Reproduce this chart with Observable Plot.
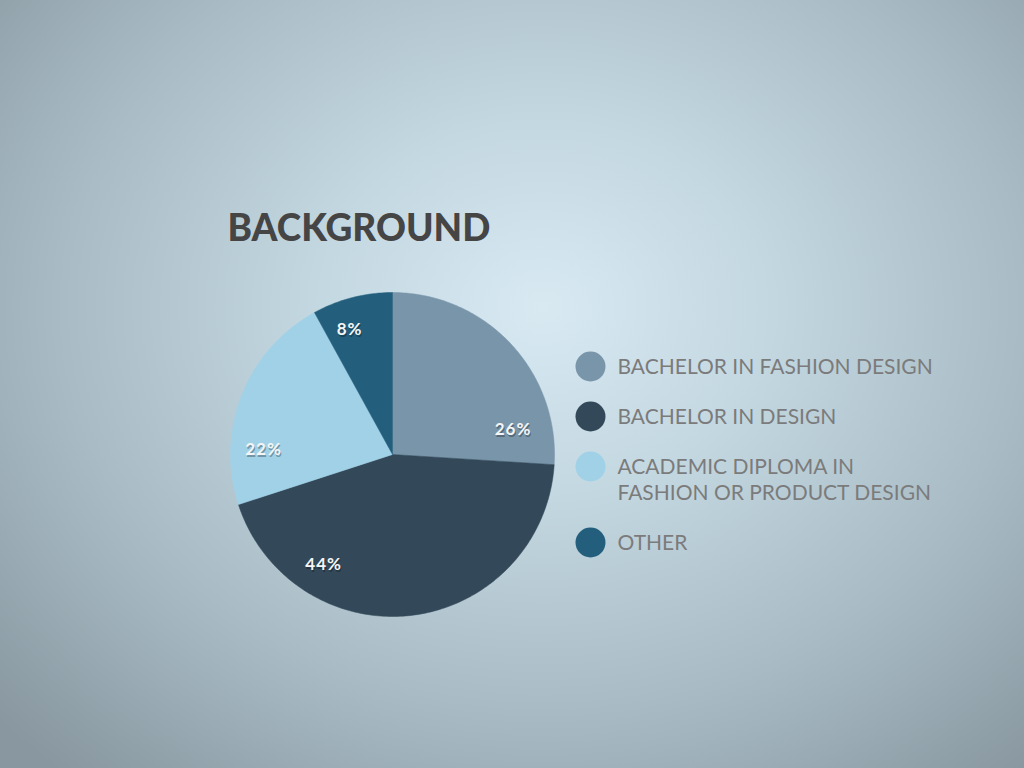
<!DOCTYPE html>
<html>
<head>
<meta charset="utf-8">
<script src="https://cdn.jsdelivr.net/npm/d3@7"></script>
<script src="https://cdn.jsdelivr.net/npm/@observablehq/plot@0.6"></script>
<style>
  html, body { margin: 0; padding: 0; width: 1024px; height: 768px; overflow: hidden; }
  body {
    background: radial-gradient(ellipse 72% 80% at 53% 40%, #d8e9f2 0%, #c4d8e2 30%, #a9bcc6 65%, #8897a0 100%);
    font-family: Lato, "Open Sans", sans-serif;
  }
  #chart svg { display: block; background: transparent; }
  #chart g[font-size="17"] { letter-spacing: 1px; }
</style>
</head>
<body>
<div id="chart"></div>
<script>
// ---- data ----
const title = "BACKGROUND";
const categories = [
  "BACHELOR IN FASHION DESIGN",
  "BACHELOR IN DESIGN",
  "ACADEMIC DIPLOMA IN\nFASHION OR PRODUCT DESIGN",
  "OTHER"
];
const values = [26, 44, 22, 8];
const colors = ["#7995aa", "#334959", "#a0d1e7", "#235f7d"];

// ---- layout (not data) ----
const W = 1024, H = 768;
const cx = 392, cy = 454, R = 162;
const labelAngle = [78.5, 212, 272, 341];   // degrees clockwise from 12 o'clock
const labelRadius = [123, 130, 129, 132];
const legendX = 590, legendY0 = 366, legendStep = 50, legendExtra = 26;

// ---- derived geometry ----
const total = d3.sum(values);
let acc = 0;
const slices = values.map((v, i) => {
  const a0 = acc / total * 2 * Math.PI;
  acc += v;
  const a1 = acc / total * 2 * Math.PI;
  return {category: categories[i], value: v, a0, a1, i};
});
const piePts = [];
for (const s of slices) {
  const n = Math.max(8, Math.ceil((s.a1 - s.a0) / (Math.PI / 180)));
  piePts.push({category: s.category, x: cx, y: cy});
  for (let k = 0; k <= n; k++) {
    const a = s.a0 + (s.a1 - s.a0) * k / n;
    piePts.push({category: s.category, x: cx + R * Math.sin(a), y: cy - R * Math.cos(a)});
  }
  piePts.push({category: s.category, x: cx, y: cy});
}
const labels = slices.map((s, i) => {
  const a = labelAngle[i] * Math.PI / 180;
  return {text: s.value + "%", x: cx + labelRadius[i] * Math.sin(a), y: cy - labelRadius[i] * Math.cos(a)};
});
let ly = legendY0;
const legend = categories.map((c, i) => {
  const item = {category: c, x: legendX, y: ly};
  ly += legendStep + (c.split("\n").length - 1) * legendExtra;
  return item;
});

const chart = Plot.plot({
  width: W, height: H,
  margin: 0,
  x: {domain: [0, W], range: [0, W], axis: null},
  y: {domain: [0, H], range: [0, H], axis: null},
  color: {domain: categories, range: colors},
  style: {background: "transparent", overflow: "visible"},
  marks: [
    Plot.line(piePts, {x: "x", y: "y", z: "category", fill: "category", stroke: "category", strokeWidth: 0.5}),
    Plot.text(labels, {x: "x", y: "y", text: "text", fill: "#000", fillOpacity: 0.3, dx: 1, dy: 2,
      fontSize: 17, fontWeight: 700, fontFamily: "Lato"}),
    Plot.text(labels, {x: "x", y: "y", text: "text", fill: "#f3f5f6",
      fontSize: 17, fontWeight: 700, fontFamily: "Lato"}),
    Plot.dot(legend, {x: "x", y: "y", r: 15, fill: "category"}),
    Plot.text(legend, {x: d => d.x + 27, y: "y", text: "category", textAnchor: "start", lineAnchor: "top",
      dy: -10, lineHeight: 1.2, fontSize: 21, fontFamily: "Lato", fill: "#7b7b7b"}),
    Plot.text([title], {x: () => 227, y: () => 240, text: d => d, textAnchor: "start", lineAnchor: "bottom",
      fontSize: 37, fontWeight: 900, fontFamily: "Lato", fill: "#454545"})
  ]
});
document.getElementById("chart").appendChild(chart);
</script>
</body>
</html>
